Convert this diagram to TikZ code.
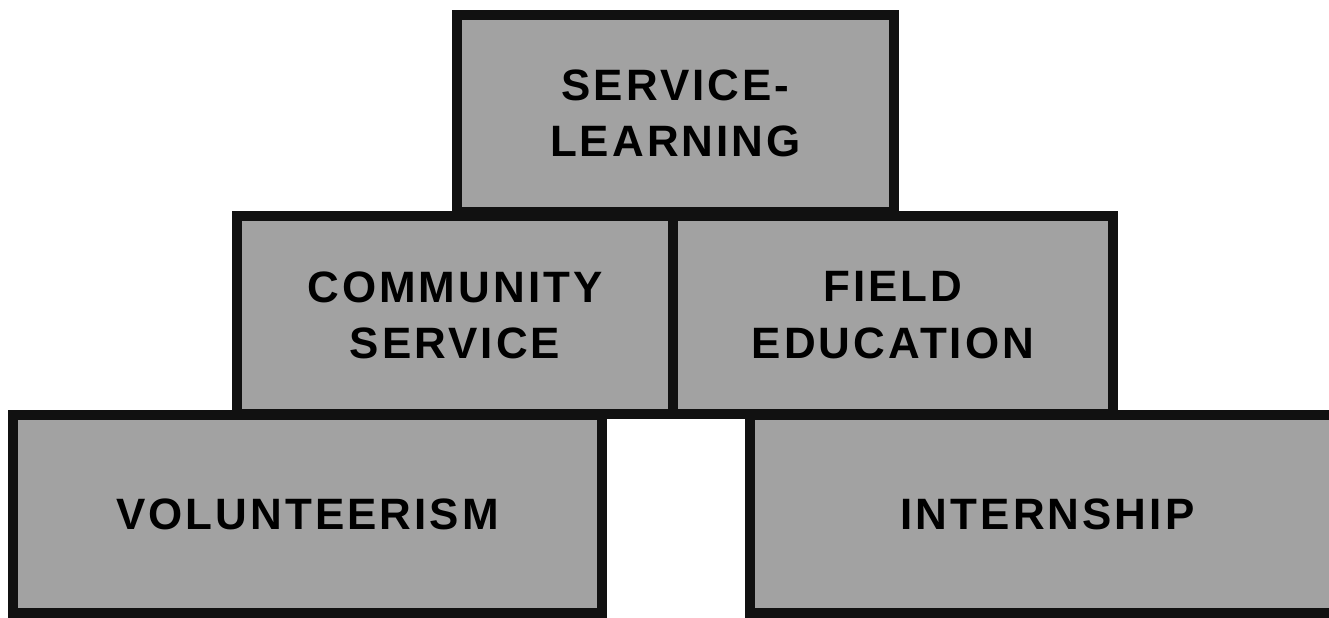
\documentclass[tikz,border=0pt]{standalone}
\usepackage{fontspec}
\setmainfont{Liberation Sans}
\definecolor{boxgray}{HTML}{A2A2A2}
\definecolor{edgeblack}{HTML}{111111}

\begin{document}
\begin{tikzpicture}[x=0.02cm, y=-0.02cm,
    level/.style={draw=edgeblack, fill=boxgray, line width=0.19cm, inner sep=0pt,
      minimum height=3.96cm, align=center,
      font=\fontsize{25}{32}\selectfont\bfseries\addfontfeature{LetterSpace=7}}]

\useasboundingbox (0,0) rectangle (1329,618);

\node[level, minimum width=11.78cm] (vol) at (307.5,514) {VOLUNTEERISM};
\node[level, minimum width=11.9cm] (intern) at (1047.5,514) {INTERNSHIP};
\node[level, minimum width=8.72cm] (comm) at (455,315) {COMMUNITY\\SERVICE};
\node[level, minimum width=8.8cm] (field) at (893,315) {FIELD\\EDUCATION};
\node[level, minimum width=8.74cm, minimum height=3.94cm] (sl) at (675.5,113.5) {SERVICE-\\LEARNING};

\end{tikzpicture}
\end{document}
